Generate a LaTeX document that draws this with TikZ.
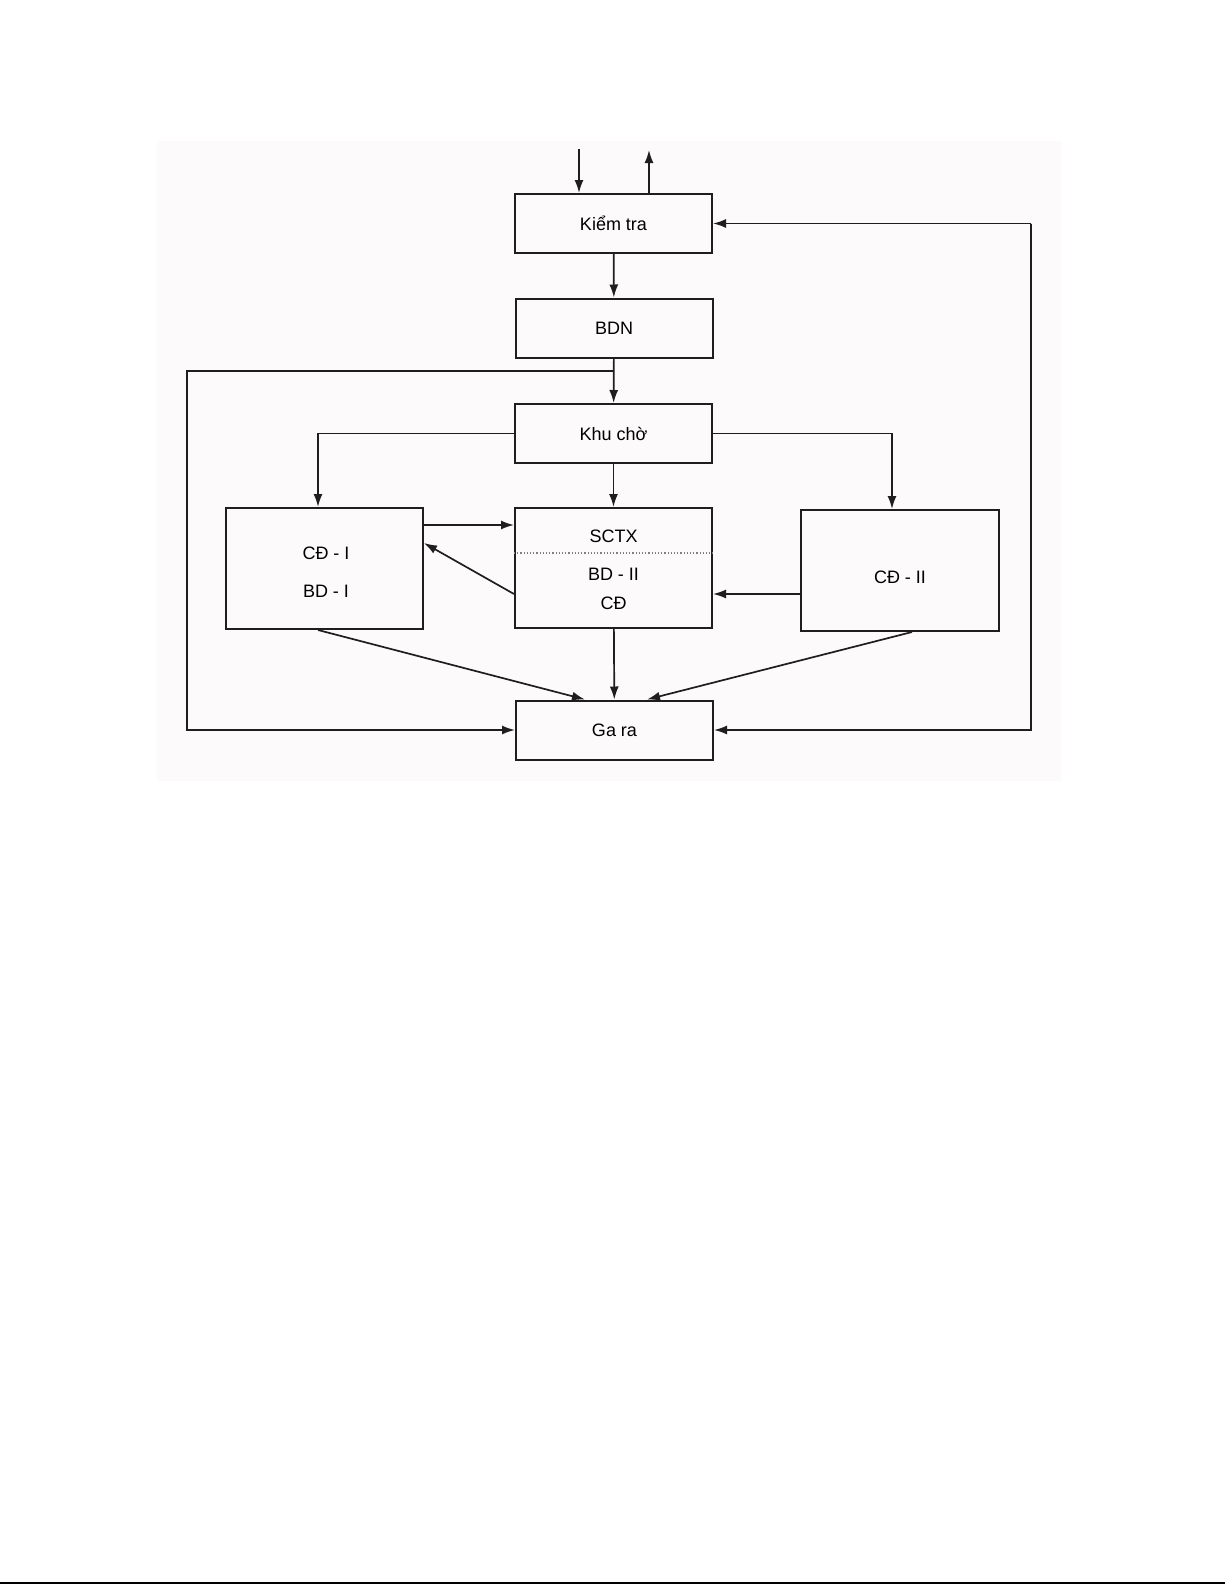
\documentclass[tikz,border=0pt]{standalone}
\usepackage{fontspec}
\setmainfont{Liberation Sans}
\usetikzlibrary{arrows.meta}
\definecolor{bgc}{RGB}{252,250,250}
\definecolor{ink}{RGB}{30,30,30}
\begin{document}
\begin{tikzpicture}[x=1pt,y=-1pt,
  box/.style={draw=ink, line width=2pt, minimum width=197pt, minimum height=59pt, inner sep=0pt, font=\fontsize{18}{21}\selectfont},
  conn/.style={line width=1.7pt, draw=ink, -{Latex[length=13pt,width=9pt]}},
  lbl/.style={font=\fontsize{18}{21}\selectfont, inner sep=0pt}]
\useasboundingbox (0,0) rectangle (1225,1585);
\fill[bgc] (157,141) rectangle (1061,781);
\draw[line width=2pt] (0,1583) -- (1225,1583);

% boxes
\node[box] (kt) at (613.5,223.5) {Kiểm tra};
\node[box] (bdn) at (614,328) {BDN};
\node[box] (kc) at (613.5,433.5) {Khu chờ};
\node[box, minimum height=120pt] (sc) at (613.5,568) {};
\node[box, minimum height=121pt] (cd1) at (324.5,568.5) {};
\node[box, minimum width=198pt, minimum height=121pt] (cd2) at (900,570.5) {};
\node[box] (gr) at (614.5,730) {Ga ra};

% labels inside boxes
\node[lbl] (tsc) at (613.5,536) {SCTX};
\node[lbl] (tbd2) at (613.5,574) {BD - II};
\node[lbl] (tcd) at (613.5,603) {CĐ};
\node[lbl] (tcd1) at (326,553) {CĐ - I};
\node[lbl] (tbd1) at (326,591) {BD - I};
\node[lbl] (tcd2) at (900,577) {CĐ - II};

% helper coordinates
\coordinate (dl) at (0,553);
\coordinate (in1) at (579,149);
\coordinate (out1) at (649,150);
\coordinate (jl) at (187,371);
\coordinate (jr) at (1031,224);
\coordinate (bl) at (318,0);
\coordinate (br) at (892,0);
\coordinate (h1) at (0,525);
\coordinate (h2) at (0,594);
\coordinate (h3) at (0,543);
\coordinate (s2) at (912,0);
\coordinate (g1) at (585,0);
\coordinate (g2) at (647,0);

% dotted divider
\draw[dotted, draw=gray, line width=1.2pt] (sc.west |- dl) -- (sc.east |- dl);

% connectors
\draw[conn] (in1) -- (in1 |- kt.north);
\draw[conn] (out1 |- kt.north) -- (out1);
\draw[conn] (kt) -- (bdn);
\draw[conn] (bdn) -- (kc);
\draw[conn] (bdn.south |- jl) -- (jl) |- (gr.west);
\draw[conn] (jr |- kt.east) -- (kt.east);
\draw[conn] (jr |- kt.east) |- (gr.east);
\draw[conn] (kc.west) -| (bl |- cd1.north);
\draw[conn] (kc.east) -| (br |- cd2.north);
\draw[conn] (kc) -- (sc);
\draw[conn] (cd1.east |- h1) -- (sc.west |- h1);
\draw[conn] (sc.west |- h2) -- (cd1.east |- h3);
\draw[conn] (cd2.west |- h2) -- (sc.east |- h2);
\draw[conn] (bl |- cd1.south) -- (g1 |- gr.north);
\draw[conn] (sc) -- (gr);
\draw[conn] (s2 |- cd2.south) -- (g2 |- gr.north);
\end{tikzpicture}
\end{document}
